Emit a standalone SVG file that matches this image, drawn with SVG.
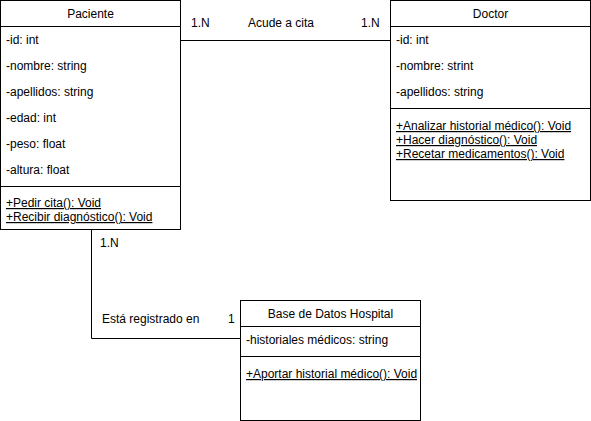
<svg xmlns="http://www.w3.org/2000/svg" width="591" height="421" viewBox="0 0 591 421">
<style>
text{font-family:"Liberation Sans",Arial,sans-serif;font-size:12px;fill:#000}
.box{fill:#fff;stroke:#000;stroke-width:1}
.ln{stroke:#000;stroke-width:1;fill:none}
.u{text-decoration:underline}
.c{text-anchor:middle}
</style>
<rect width="591" height="421" fill="#fff"/>
<g id="connectors">
<path class="ln" d="M181 40.5H390.5"/>
<text x="191" y="27">1.N</text>
<text x="281" y="27" class="c">Acude a cita</text>
<text x="361" y="27">1.N</text>
<path class="ln" d="M91.5 230V338.5H241"/>
<text x="100" y="247">1.N</text>
<text x="102" y="323">Está registrado en</text>
<text x="228" y="323">1</text>
</g>
<g id="paciente">
<rect class="box" x="0.5" y="0.5" width="180" height="229"/>
<path class="ln" d="M0.5 26.5H180.5M0.5 186.5H180.5"/>
<text x="90.5" y="18" class="c">Paciente</text>
<text x="6" y="44">-id: int</text>
<text x="6" y="70">-nombre: string</text>
<text x="6" y="96">-apellidos: string</text>
<text x="6" y="122">-edad: int</text>
<text x="6" y="148">-peso: float</text>
<text x="6" y="174">-altura: float</text>
<text x="6" y="207" class="u">+Pedir cita(): Void</text>
<text x="6" y="221" class="u">+Recibir diagnóstico(): Void</text>
</g>
<g id="doctor">
<rect class="box" x="390.5" y="0.5" width="200" height="200"/>
<path class="ln" d="M390.5 26.5H590.5M390.5 108.5H590.5"/>
<text x="490.5" y="18" class="c">Doctor</text>
<text x="396" y="44">-id: int</text>
<text x="396" y="70">-nombre: strint</text>
<text x="396" y="96">-apellidos: string</text>
<text x="396" y="130" class="u">+Analizar historial médico(): Void</text>
<text x="396" y="144" class="u">+Hacer diagnóstico(): Void</text>
<text x="396" y="158" class="u">+Recetar medicamentos(): Void</text>
</g>
<g id="basedatos">
<rect class="box" x="240.5" y="300.5" width="180" height="120"/>
<path class="ln" d="M240.5 326.5H420.5M240.5 356.5H420.5"/>
<text x="330.5" y="318" class="c">Base de Datos Hospital</text>
<text x="246" y="344">-historiales médicos: string</text>
<text x="246" y="378" class="u">+Aportar historial médico(): Void</text>
</g>
</svg>
